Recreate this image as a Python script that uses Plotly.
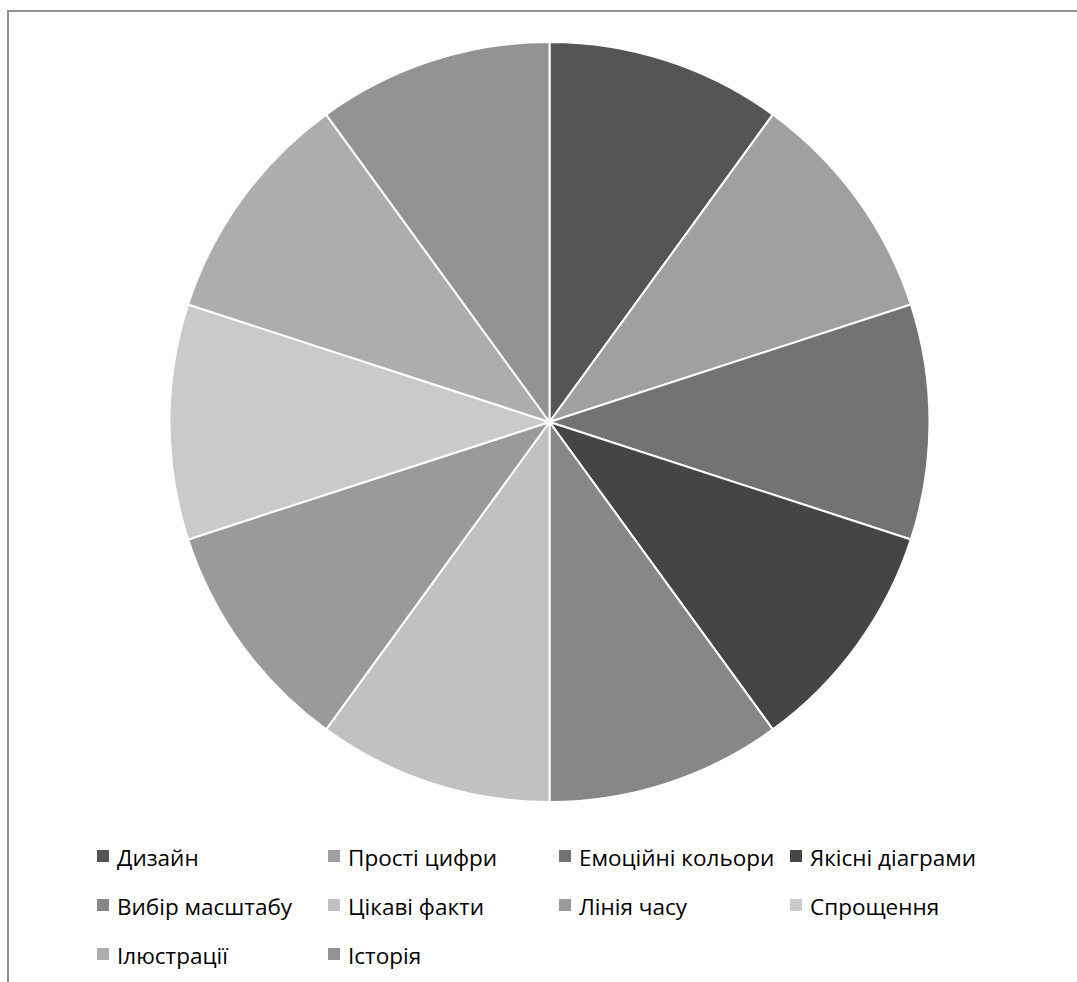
import plotly.graph_objects as go

# Topics of the infographic, clockwise from 12 o'clock
labels = [
    "Дизайн", "Прості цифри", "Емоційні кольори", "Якісні діаграми",
    "Вибір масштабу", "Цікаві факти", "Лінія часу", "Спрощення",
    "Ілюстрації", "Історія",
]
values = [1, 1, 1, 1, 1, 1, 1, 1, 1, 1]
colors = [
    "#555555", "#a0a0a0", "#737373", "#454545", "#878787",
    "#c1c1c1", "#9a9a9a", "#cacaca", "#adadad", "#939393",
]

W, H = 1077, 982


def px(x):
    return x / W


def py(y):
    return 1 - y / H


cx, cy, r = 549.5, 422, 380

fig = go.Figure(
    go.Pie(
        labels=labels,
        values=values,
        sort=False,
        direction="clockwise",
        rotation=0,
        marker=dict(colors=colors, line=dict(color="white", width=2)),
        textinfo="none",
        hoverinfo="label+value",
        showlegend=False,
        domain=dict(x=[px(cx - r), px(cx + r)], y=[py(cy + r), py(cy - r)]),
    )
)

# Chart-area frame (runs off the right and bottom edges)
shapes = [
    dict(
        type="rect", xref="paper", yref="paper",
        x0=px(8), x1=px(W + 20), y0=py(H + 20), y1=py(11),
        line=dict(color="#8f8f8f", width=2), fillcolor="rgba(0,0,0,0)",
    )
]

# Legend laid out in four columns
annotations = []
col_x = [97, 328, 559, 790]
row_y = [856, 905, 954]
for i, (lab, col) in enumerate(zip(labels, colors)):
    x0 = col_x[i % 4]
    yc = row_y[i // 4]
    shapes.append(
        dict(
            type="rect", xref="paper", yref="paper",
            x0=px(x0), x1=px(x0 + 12), y0=py(yc + 6), y1=py(yc - 6),
            line=dict(width=0), fillcolor=col,
        )
    )
    annotations.append(
        dict(
            x=px(x0 + 18), y=py(yc + 1), xref="paper", yref="paper",
            text=lab, showarrow=False, xanchor="left", yanchor="middle",
            font=dict(family="Open Sans", size=22.5, color="#000000"),
        )
    )

fig.update_layout(
    width=W,
    height=H,
    margin=dict(l=0, r=0, t=0, b=0),
    paper_bgcolor="white",
    plot_bgcolor="white",
    shapes=shapes,
    annotations=annotations,
)

fig.write_html("out.html")
